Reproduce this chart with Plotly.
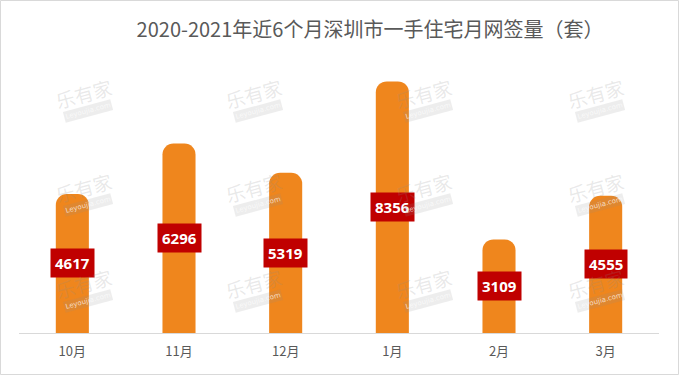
import plotly.graph_objects as go

categories = ["10月", "11月", "12月", "1月", "2月", "3月"]
values = [4617, 6296, 5319, 8356, 3109, 4555]
title_text = "2020-2021年近6个月深圳市一手住宅月网签量（套）"

W, H = 679, 375
ML, MR, MT, MB = 19, 20, 62, 42
pw = W - ML - MR
ph = H - MT - MB

fig = go.Figure()
fig.add_trace(go.Bar(
    x=categories, y=values,
    marker=dict(color="#EF861D", cornerradius=11, line=dict(width=0)),
    width=0.31,
    hoverinfo="x+y",
))

# value labels in red boxes at half height
for c, v in zip(categories, values):
    fig.add_annotation(
        x=c, y=v / 2, xref="x", yref="y", text=f"<b>{v}</b>",
        showarrow=False, bgcolor="#C00000",
        font=dict(family="Open Sans, Noto Sans, sans-serif", size=15, color="white"),
        borderpad=4, xanchor="center", yanchor="middle",
    )

# faint watermarks
def px2paper(px, py):
    return (px - ML) / pw, (H - MB - py) / ph

wm_x = [83, 253, 423, 595]
wm_y = [93, 187, 283]
for wx in wm_x:
    for wy in wm_y:
        a, b = px2paper(wx, wy)
        fig.add_annotation(
            x=a, y=b, xref="paper", yref="paper", text="乐有家",
            showarrow=False, textangle=-15, xanchor="center", yanchor="middle",
            font=dict(family="Noto Sans CJK SC", size=19, color="rgba(140,140,140,0.2)"),
        )
        a2, b2 = px2paper(wx + 5, wy + 18)
        fig.add_annotation(
            x=a2, y=b2, xref="paper", yref="paper", text="Leyoujia.com",
            showarrow=False, textangle=-15, bgcolor="rgba(140,140,140,0.16)",
            borderpad=1, xanchor="center", yanchor="middle",
            font=dict(family="DejaVu Sans", size=7, color="rgba(255,255,255,0.7)"),
        )

# outer border
x0, y0 = px2paper(0.5, H - 0.5)
x1, y1 = px2paper(W - 0.5, 0.5)
fig.add_shape(type="rect", xref="paper", yref="paper", x0=x0, y0=y0, x1=x1, y1=y1,
              line=dict(color="#D9D9D9", width=1), fillcolor="rgba(0,0,0,0)", layer="above")

fig.update_layout(
    width=W, height=H,
    margin=dict(l=ML, r=MR, t=MT, b=MB),
    paper_bgcolor="white", plot_bgcolor="white",
    showlegend=False,
    title=dict(text=title_text, x=370 / W, xref="container", xanchor="center",
               y=1 - 30 / H, yref="container", yanchor="middle",
               font=dict(family="Noto Sans CJK SC", size=20, color="#595959")),
    xaxis=dict(showline=True, linecolor="#D9D9D9", linewidth=1, ticks="",
               ticklabelstandoff=6,
               tickfont=dict(family="Noto Sans CJK SC", size=13, color="#595959"),
               showgrid=False, fixedrange=True),
    yaxis=dict(range=[0, 9000], visible=False, showgrid=False, fixedrange=True),
    bargap=0.69,
)

fig.write_html("out.html", config={"displayModeBar": False},
               post_script="document.body.style.margin='0';document.body.style.padding='0';")
